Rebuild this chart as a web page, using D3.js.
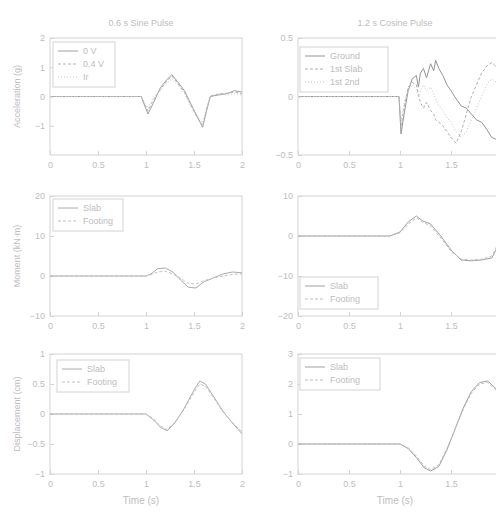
<!DOCTYPE html>
<html>
<head>
<meta charset="utf-8">
<script src="https://cdn.jsdelivr.net/npm/d3@7"></script>
<style>
  body { margin: 0; background: #fff; }
  svg { display: block; font-family: "Liberation Sans", Arial, sans-serif; }
</style>
</head>
<body>
<svg id="chart" width="496" height="513"></svg>
<script>
// ---- data ----
const xTicksLeft = [0, 0.5, 1, 1.5, 2];
const xTicksRight = [0, 0.5, 1, 1.5];

// top left: acceleration, short pulse
const accLeftT = [0, 0.5, 0.95, 1.02, 1.08, 1.15, 1.21, 1.27, 1.33, 1.4, 1.46, 1.52, 1.59, 1.63, 1.67, 1.75, 1.85, 1.92, 2.0];
const accLeft1 = [0, 0, 0, -0.6, -0.2, 0.3, 0.55, 0.75, 0.5, 0.2, -0.2, -0.6, -1.05, -0.5, 0, 0.05, 0.1, 0.2, 0.15];
const accLeft2 = [0, 0, 0, -0.5, -0.1, 0.25, 0.5, 0.7, 0.45, 0.15, -0.25, -0.65, -1.0, -0.45, 0.02, 0.08, 0.12, 0.15, 0.1];
const accLeft3 = [0, 0, 0, -0.4, 0, 0.2, 0.45, 0.6, 0.4, 0.1, -0.3, -0.6, -0.9, -0.4, 0, 0.1, 0.05, 0.1, 0.05];

// top right: acceleration, cosine pulse (noisy)
const accRightT = [0, 0.5, 0.99, 1.01, 1.04, 1.08, 1.12, 1.16, 1.18, 1.2, 1.23, 1.26, 1.3, 1.33, 1.35, 1.38, 1.42, 1.46, 1.5, 1.55, 1.6, 1.65, 1.7, 1.75, 1.8, 1.85, 1.9, 1.95, 2.0];
const accGround = [0, 0, 0, -0.32, -0.15, 0.05, 0.15, 0.18, 0.08, 0.2, 0.24, 0.16, 0.28, 0.22, 0.31, 0.24, 0.18, 0.1, 0.05, -0.02, -0.08, -0.1, -0.15, -0.2, -0.22, -0.28, -0.35, -0.37, -0.33];
const accSlab1 = [0, 0, 0, -0.25, -0.1, 0.08, 0.12, 0.1, 0.02, -0.05, -0.1, -0.05, -0.12, -0.15, -0.2, -0.22, -0.25, -0.3, -0.35, -0.4, -0.3, -0.15, 0.0, 0.1, 0.2, 0.26, 0.29, 0.25, 0.2];
const accSlab2 = [0, 0, 0, -0.2, -0.05, 0.05, 0.1, 0.06, 0.0, 0.05, 0.1, 0.05, 0.08, 0.02, -0.02, -0.08, -0.12, -0.18, -0.22, -0.3, -0.35, -0.3, -0.2, -0.1, 0.0, 0.1, 0.15, 0.12, 0.05];

// middle left: moment
const momLeftT = [0, 0.5, 1.0, 1.05, 1.12, 1.2, 1.28, 1.36, 1.44, 1.52, 1.6, 1.7, 1.8, 1.9, 2.0];
const momLeft1 = [0, 0, 0, 0.5, 1.8, 2.0, 1.0, -1.0, -2.8, -3.0, -1.5, -0.5, 0.5, 1.0, 0.8];
const momLeft2 = [0, 0, 0, 0.3, 1.0, 1.2, 0.5, -0.6, -1.8, -2.0, -1.2, -0.5, 0, 0.4, 0.5];

// middle right: moment, cosine pulse
const momRightT = [0, 0.5, 0.9, 1.0, 1.08, 1.16, 1.22, 1.3, 1.4, 1.5, 1.6, 1.7, 1.8, 1.9, 1.95, 2.0];
const momRight1 = [0, 0, 0, 1.0, 3.5, 5.0, 3.8, 3.0, 0.0, -3.5, -6.0, -6.2, -6.0, -5.5, -3.0, 2.0];
const momRight2 = [0, 0, 0, 0.8, 3.0, 4.5, 3.5, 2.5, -0.5, -3.8, -5.8, -6.0, -5.8, -5.0, -2.5, 1.5];

// bottom left: displacement
const dispLeftT = [0, 0.5, 1.0, 1.08, 1.15, 1.22, 1.3, 1.4, 1.5, 1.56, 1.62, 1.7, 1.8, 1.9, 2.0];
const dispLeft1 = [0, 0, 0, -0.1, -0.22, -0.28, -0.15, 0.1, 0.4, 0.55, 0.5, 0.3, 0.05, -0.15, -0.33];
const dispLeft2 = [0, 0, 0, -0.08, -0.2, -0.26, -0.14, 0.08, 0.36, 0.5, 0.46, 0.28, 0.04, -0.14, -0.3];

// bottom right: displacement, cosine pulse
const dispRightT = [0, 0.5, 1.0, 1.08, 1.16, 1.24, 1.3, 1.38, 1.46, 1.54, 1.62, 1.7, 1.78, 1.86, 1.94, 2.0];
const dispRight1 = [0, 0, 0, -0.15, -0.45, -0.8, -0.9, -0.75, -0.2, 0.5, 1.2, 1.75, 2.05, 2.1, 1.85, 1.5];
const dispRight2 = [0, 0, 0, -0.12, -0.4, -0.75, -0.85, -0.7, -0.15, 0.5, 1.15, 1.7, 2.0, 2.05, 1.8, 1.45];

const svg = d3.select('#chart');
const textCol = '#bdbdbd';
const axisCol = '#d4d4d4';

function panel(opt) {
    const x = d3.scaleLinear().domain([0, 2]).range([opt.x0, opt.x1]);
    const y = d3.scaleLinear().domain(opt.yDomain).range([opt.y1, opt.y0]);
    const g = svg.append('g');

    // frame
    g.append('rect')
        .attr('x', opt.x0).attr('y', opt.y0)
        .attr('width', opt.x1 - opt.x0).attr('height', opt.y1 - opt.y0)
        .attr('fill', 'none').attr('stroke', axisCol).attr('stroke-width', 1);

    // axes
    const xa = g.append('g')
        .attr('transform', `translate(0,${opt.y1})`)
        .call(d3.axisBottom(x).tickValues(opt.xTicks).tickSize(-4).tickPadding(7).tickFormat(d3.format('~g')));
    const ya = g.append('g')
        .attr('transform', `translate(${opt.x0},0)`)
        .call(d3.axisLeft(y).tickValues(opt.yTicks).tickSize(-4).tickPadding(5).tickFormat(d3.format('~g')));
    [xa, ya].forEach(a => {
        a.select('.domain').remove();
        a.selectAll('line').attr('stroke', axisCol);
        a.selectAll('text').attr('fill', textCol).style('font-size', '9px');
    });

    // lines
    const line = d3.line().x(d => x(d[0])).y(d => y(d[1]));
    opt.series.forEach(s => {
        const pts = opt.t.map((t, i) => [t, s.values[i]]);
        g.append('path')
            .datum(pts)
            .attr('fill', 'none')
            .attr('stroke', s.color)
            .attr('stroke-width', s.width || 1)
            .attr('stroke-dasharray', s.dash || null)
            .attr('d', line);
    });

    // legend
    if (opt.legend) {
        const lg = opt.legend;
        const lh = 13;
        const boxH = lh * opt.series.length + 6;
        g.append('rect')
            .attr('x', lg.x).attr('y', lg.y)
            .attr('width', lg.w).attr('height', boxH)
            .attr('fill', '#fff').attr('stroke', axisCol);
        opt.series.forEach((s, i) => {
            const yy = lg.y + 9 + i * lh;
            g.append('line')
                .attr('x1', lg.x + 5).attr('x2', lg.x + 25)
                .attr('y1', yy).attr('y2', yy)
                .attr('stroke', s.color).attr('stroke-dasharray', s.dash || null);
            g.append('text')
                .attr('x', lg.x + 30).attr('y', yy + 3)
                .attr('fill', textCol).style('font-size', '9px')
                .text(s.name);
        });
    }

    if (opt.yLabel) {
        g.append('text')
            .attr('transform', `translate(${opt.x0 - 30},${(opt.y0 + opt.y1) / 2}) rotate(-90)`)
            .attr('text-anchor', 'middle')
            .attr('fill', textCol).style('font-size', '9px')
            .text(opt.yLabel);
    }
    if (opt.title) {
        g.append('text')
            .attr('x', (opt.x0 + opt.x1) / 2 - 5).attr('y', opt.y0 - 12)
            .attr('text-anchor', 'middle')
            .attr('fill', textCol).style('font-size', '9px')
            .text(opt.title);
    }
    if (opt.xLabel) {
        g.append('text')
            .attr('x', (opt.x0 + opt.x1) / 2 - 5).attr('y', opt.y1 + 30)
            .attr('text-anchor', 'middle')
            .attr('fill', textCol).style('font-size', '10px')
            .text(opt.xLabel);
    }
}

const L = { x0: 50, x1: 242 };
const R = { x0: 298, x1: 502 };
const rows = [{ y0: 38, y1: 155 }, { y0: 196, y1: 316 }, { y0: 354, y1: 474 }];

panel({ ...L, ...rows[0], t: accLeftT, yDomain: [-2, 2], yTicks: [-1, 0, 1, 2], xTicks: xTicksLeft,
    title: '0.6 s Sine Pulse', yLabel: 'Acceleration (g)',
    legend: { x: 53, y: 42, w: 62 },
    series: [
        { name: '0 V', values: accLeft1, color: '#a0a0a0' },
        { name: '0.4 V', values: accLeft2, color: '#b4b4b4', dash: '3,2' },
        { name: 'Ir', values: accLeft3, color: '#c6c6c6', dash: '1,2' }
    ] });

panel({ ...R, ...rows[0], t: accRightT, yDomain: [-0.5, 0.5], yTicks: [-0.5, 0, 0.5], xTicks: xTicksRight,
    title: '1.2 s Cosine Pulse',
    legend: { x: 300, y: 47, w: 88 },
    series: [
        { name: 'Ground', values: accGround, color: '#949494' },
        { name: '1st Slab', values: accSlab1, color: '#b0b0b0', dash: '3,2' },
        { name: '1st 2nd', values: accSlab2, color: '#c4c4c4', dash: '1,2' }
    ] });

panel({ ...L, ...rows[1], t: momLeftT, yDomain: [-10, 20], yTicks: [-10, 0, 10, 20], xTicks: xTicksLeft,
    yLabel: 'Moment (kN·m)',
    legend: { x: 53, y: 199, w: 70 },
    series: [
        { name: 'Slab', values: momLeft1, color: '#acacac' },
        { name: 'Footing', values: momLeft2, color: '#c2c2c2', dash: '3,2' }
    ] });

panel({ ...R, ...rows[1], t: momRightT, yDomain: [-20, 10], yTicks: [-20, -10, 0, 10], xTicks: xTicksRight,
    legend: { x: 300, y: 277, w: 78 },
    series: [
        { name: 'Slab', values: momRight1, color: '#a0a0a0' },
        { name: 'Footing', values: momRight2, color: '#c0c0c0', dash: '3,2' }
    ] });

panel({ ...L, ...rows[2], t: dispLeftT, yDomain: [-1, 1], yTicks: [-1, -0.5, 0, 0.5, 1], xTicks: xTicksLeft,
    yLabel: 'Displacement (cm)', xLabel: 'Time (s)',
    legend: { x: 57, y: 360, w: 72 },
    series: [
        { name: 'Slab', values: dispLeft1, color: '#acacac' },
        { name: 'Footing', values: dispLeft2, color: '#c2c2c2', dash: '3,2' }
    ] });

panel({ ...R, ...rows[2], t: dispRightT, yDomain: [-1, 3], yTicks: [-1, 0, 1, 2, 3], xTicks: xTicksRight,
    xLabel: 'Time (s)',
    legend: { x: 300, y: 358, w: 80 },
    series: [
        { name: 'Slab', values: dispRight1, color: '#a0a0a0' },
        { name: 'Footing', values: dispRight2, color: '#bebebe', dash: '3,2' }
    ] });
</script>
</body>
</html>
